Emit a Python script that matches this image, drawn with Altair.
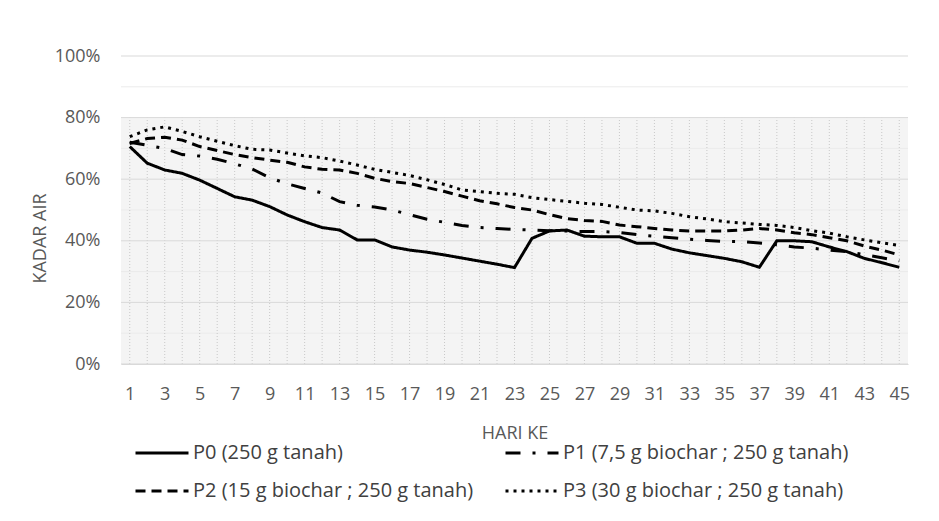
import altair as alt
import pandas as pd

days = list(range(1, 46))

series_names = [
    "P0 (250 g tanah)",
    "P1 (7,5 g biochar ; 250 g tanah)",
    "P2 (15 g biochar ; 250 g tanah)",
    "P3 (30 g biochar ; 250 g tanah)",
]

p0 = [70.6, 65.2, 63.0, 61.9, 59.7, 57.0, 54.3, 53.2, 51.1, 48.4,
      46.2, 44.3, 43.5, 40.3, 40.3, 38.0, 37.0, 36.3, 35.4, 34.4,
      33.4, 32.4, 31.3, 40.8, 43.2, 43.5, 41.5, 41.3, 41.3, 39.2,
      39.2, 37.3, 36.1, 35.2, 34.3, 33.2, 31.4, 40.0, 40.0, 39.7,
      38.0, 36.5, 34.3, 32.9, 31.4]
p1 = [72.0, 71.0, 70.0, 68.0, 67.5, 66.5, 65.0, 63.3, 60.5, 58.5,
      57.0, 55.5, 52.7, 51.5, 51.0, 50.0, 48.5, 47.0, 46.0, 45.0,
      44.3, 44.0, 43.7, 43.5, 43.3, 43.2, 43.0, 43.0, 42.7, 42.0,
      41.5, 41.0, 40.5, 40.1, 39.8, 39.7, 39.3, 38.7, 38.0, 37.6,
      37.0, 36.5, 35.5, 34.5, 33.5]
p2 = [71.6, 73.2, 73.6, 72.7, 70.6, 69.3, 68.0, 67.0, 66.2, 65.5,
      64.0, 63.2, 63.0, 61.9, 60.3, 59.2, 58.6, 57.3, 56.0, 54.5,
      53.0, 52.0, 50.8, 50.0, 48.5, 47.2, 46.6, 46.3, 45.1, 44.6,
      44.0, 43.5, 43.2, 43.2, 43.2, 43.5, 44.0, 43.5, 42.6, 42.0,
      41.0, 40.0, 38.3, 37.0, 35.4]
p3 = [73.8, 76.0, 77.0, 75.5, 73.8, 72.3, 70.9, 69.7, 69.5, 68.5,
      67.6, 67.0, 65.9, 64.6, 63.2, 62.2, 61.2, 59.8, 58.3, 56.5,
      56.0, 55.4, 55.1, 54.0, 53.4, 52.8, 52.2, 51.8, 50.9, 50.0,
      49.7, 48.9, 47.8, 47.1, 46.2, 45.8, 45.3, 45.0, 44.3, 43.3,
      42.5, 41.3, 40.3, 39.4, 38.5]

y_ticks = [0, 20, 40, 60, 80, 100]
y_minor = [10, 30, 50, 70, 90]
x_ticks = list(range(1, 46, 2))

rows = []
for name, vals in zip(series_names, [p0, p1, p2, p3]):
    for d, v in zip(days, vals):
        rows.append({"day": d, "value": v, "series": name})
df = pd.DataFrame(rows)

# legend fills column by column: order so rows read P0 | P1, P2 | P3
legend_order = [series_names[0], series_names[2], series_names[1], series_names[3]]
dash_map = {
    series_names[0]: [1, 0],
    series_names[1]: [15, 12, 3, 12],
    series_names[2]: [10, 6],
    series_names[3]: [3, 5],
}

W, H = 787, 308
FONT = "Open Sans"
GREY = "#595959"

x_scale = alt.Scale(domain=[0.5, 45.5], nice=False, zero=False)
y_scale = alt.Scale(domain=[0, 100], nice=False)

x_axis = alt.Axis(
    values=x_ticks,
    title="HARI KE",
    grid=False,
    ticks=False,
    domainColor="#d9d9d9",
    labelPadding=21,
    titlePadding=21,
    labelFlush=False,
    labelOverlap=False,
)
y_axis = alt.Axis(
    values=y_ticks,
    labelExpr="datum.value + '%'",
    title="KADAR AIR",
    grid=False,
    domain=False,
    ticks=False,
    labelPadding=21,
    titleX=-81,
    titleY=182,
    titleBaseline="middle",
)

bg = alt.Chart(pd.DataFrame({"a": [0]})).mark_rect(fill="#f4f4f4").encode(
    x=alt.datum(0.5, scale=x_scale, axis=x_axis),
    x2=alt.datum(45.5),
    y=alt.datum(0, scale=y_scale, axis=y_axis),
    y2=alt.datum(80),
)

minor = alt.Chart(pd.DataFrame({"v": y_minor})).mark_rule(
    color="#ebebeb", strokeWidth=1
).encode(y=alt.Y("v:Q", scale=y_scale, axis=y_axis))

vgrid = alt.Chart(pd.DataFrame({"day": days})).mark_rule(
    color="#c8c8c8", strokeWidth=1, strokeDash=[1, 2]
).encode(
    x=alt.X("day:Q", scale=x_scale, axis=x_axis),
    y=alt.datum(0, scale=y_scale, axis=y_axis),
    y2=alt.datum(80),
)

major = alt.Chart(pd.DataFrame({"v": y_ticks})).mark_rule(
    color="#d9d9d9", strokeWidth=1
).encode(y=alt.Y("v:Q", scale=y_scale, axis=y_axis))

lines = alt.Chart(df).mark_line(color="black", strokeWidth=3).encode(
    x=alt.X("day:Q", scale=x_scale, axis=x_axis),
    y=alt.Y("value:Q", scale=y_scale, axis=y_axis),
    strokeDash=alt.StrokeDash(
        "series:N",
        scale=alt.Scale(
            domain=legend_order,
            range=[dash_map[n] for n in legend_order],
        ),
        legend=alt.Legend(
            title=None,
            orient="none",
            legendX=13,
            legendY=369,
            columns=2,
            columnPadding=25,
            rowPadding=-26,
            symbolType="stroke",
            symbolSize=2809,
            symbolStrokeWidth=3,
            symbolStrokeColor="black",
            labelFontSize=20,
            labelColor="#404040",
            labelLimit=600,
            labelOffset=3,
            padding=0,
        ),
    ),
)

chart = alt.layer(bg, minor, vgrid, major, lines).properties(
    width=W,
    height=H,
    autosize=alt.AutoSizeParams(type="none"),
    padding={"left": 113, "top": 48, "right": 20, "bottom": 150},
).configure(font=FONT).configure_view(stroke=None).configure_axis(
    labelFont=FONT,
    labelFontSize=18,
    labelColor=GREY,
    titleFont=FONT,
    titleFontSize=18,
    titleColor=GREY,
    titleFontWeight="normal",
).configure_axisX(labelOverlap=False)

chart.save("out.html", embed_options={"renderer": "svg", "actions": False})
